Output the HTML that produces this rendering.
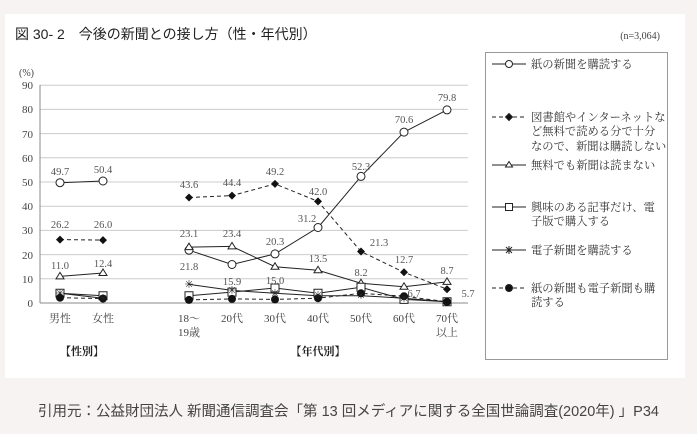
<!DOCTYPE html>
<html><head><meta charset="utf-8"><style>
body{margin:0;background:#f7f3f2;width:697px;height:434px;overflow:hidden;font-family:"Liberation Serif","Noto Serif CJK SC",serif}
.panel{position:absolute;left:5px;top:14px;width:680px;height:364px;background:#fff}
.cap{position:absolute;left:0;width:697px;top:400px;text-align:center;font:14.5px "Liberation Sans","Noto Sans CJK JP",sans-serif;color:#444}
</style></head><body>
<div class="panel"></div>
<svg style="position:absolute;left:0;top:0" width="697" height="434" font-family="Liberation Serif, Noto Serif CJK JP, serif">
<text x="15" y="39" font-size="14" font-family="Liberation Sans, Noto Sans CJK JP, sans-serif" fill="#222">図 30- 2　今後の新聞との接し方（性・年代別）</text>
<text x="660" y="39" font-size="10" fill="#444" text-anchor="end">(n=3,064)</text>
<g font-size="11" fill="#444" text-anchor="end">
<text x="34" y="76" font-size="10">(%)</text>
<text x="33" y="89">90</text><text x="33" y="113">80</text><text x="33" y="138">70</text><text x="33" y="162">60</text><text x="33" y="186">50</text><text x="33" y="210">40</text><text x="33" y="234">30</text><text x="33" y="259">20</text><text x="33" y="283">10</text><text x="33" y="307">0</text>
</g>
<g stroke="#ccc" stroke-width="1">
<line x1="40" y1="85.2" x2="468" y2="85.2"/><line x1="40" y1="109.4" x2="468" y2="109.4"/><line x1="40" y1="133.6" x2="468" y2="133.6"/><line x1="40" y1="157.8" x2="468" y2="157.8"/><line x1="40" y1="182" x2="468" y2="182"/><line x1="40" y1="206.2" x2="468" y2="206.2"/><line x1="40" y1="230.4" x2="468" y2="230.4"/><line x1="40" y1="254.6" x2="468" y2="254.6"/><line x1="40" y1="278.8" x2="468" y2="278.8"/>
</g>
<line x1="40" y1="85" x2="40" y2="303" stroke="#888"/>
<line x1="40" y1="303" x2="468" y2="303" stroke="#888"/>
<g fill="none" stroke="#222" stroke-width="1">
<polyline points="60,182.7 103,181"/><polyline points="189,250.2 232,264.5 275,253.9 318,227.5 361,176.4 404,132.1 447,109.9"/>
<polyline stroke-dasharray="4,3" points="60,239.6 103,240.1"/><polyline stroke-dasharray="4,3" points="189,197.5 232,195.6 275,183.9 318,201.4 361,251.5 404,272.3 447,289.2"/>
<polyline points="60,276.4 103,273"/><polyline points="189,247.1 232,246.4 275,266.7 318,270.3 361,283.2 404,286.8 447,281.9"/>
<polyline points="60,293.3 103,295.7"/><polyline points="189,295.7 232,292.1 275,288 318,293.3 361,287.3 404,299.4 447,301.8"/>
<polyline points="60,293.3 103,298.2"/><polyline points="189,284.4 232,290.4 275,293.3 318,295.7 361,295.7 404,298.2 447,301.8"/>
<polyline stroke-dasharray="4,3" points="60,297.7 103,298.6"/><polyline stroke-dasharray="4,3" points="189,299.9 232,298.9 275,299.4 318,298.2 361,293.3 404,296.2 447,301.8"/>
</g>
<g fill="#fff" stroke="#222">
<circle cx="60" cy="182.7" r="4"/><circle cx="103" cy="181" r="4"/><circle cx="189" cy="250.2" r="4"/><circle cx="232" cy="264.5" r="4"/><circle cx="275" cy="253.9" r="4"/><circle cx="318" cy="227.5" r="4"/><circle cx="361" cy="176.4" r="4"/><circle cx="404" cy="132.1" r="4"/><circle cx="447" cy="109.9" r="4"/>
<path d="M60,272.4l4,6.5h-8zM103,269l4,6.5h-8zM189,243.1l4,6.5h-8zM232,242.4l4,6.5h-8zM275,262.7l4,6.5h-8zM318,266.3l4,6.5h-8zM361,279.2l4,6.5h-8zM404,282.8l4,6.5h-8zM447,277.9l4,6.5h-8z"/>
<path d="M56,289.3h8v8h-8zM99,291.7h8v8h-8zM185,291.7h8v8h-8zM228,288.1h8v8h-8zM271,284h8v8h-8zM314,289.3h8v8h-8zM357,283.3h8v8h-8zM400,295.4h8v8h-8zM443,297.8h8v8h-8z"/>
</g>
<g fill="#111">
<path d="M60,235.6l4,4-4,4-4-4zM103,236.1l4,4-4,4-4-4zM189,193.5l4,4-4,4-4-4zM232,191.6l4,4-4,4-4-4zM275,179.9l4,4-4,4-4-4zM318,197.4l4,4-4,4-4-4zM361,247.5l4,4-4,4-4-4zM404,268.3l4,4-4,4-4-4zM447,285.2l4,4-4,4-4-4z"/>
<circle cx="60" cy="297.7" r="4"/><circle cx="103" cy="298.6" r="4"/><circle cx="189" cy="299.9" r="4"/><circle cx="232" cy="298.9" r="4"/><circle cx="275" cy="299.4" r="4"/><circle cx="318" cy="298.2" r="4"/><circle cx="361" cy="293.3" r="4"/><circle cx="404" cy="296.2" r="4"/><circle cx="447" cy="301.8" r="4"/>
</g>
<g font-size="11" text-anchor="middle" fill="#222">
<text x="60" y="297">✳</text><text x="103" y="302">✳</text><text x="189" y="288">✳</text><text x="232" y="294">✳</text><text x="275" y="297">✳</text><text x="318" y="299">✳</text><text x="361" y="299">✳</text><text x="404" y="302">✳</text>
</g>
<g font-size="10.5" fill="#555" text-anchor="middle">
<text x="60" y="175">49.7</text><text x="103" y="173">50.4</text><text x="189" y="188">43.6</text><text x="232" y="186">44.4</text><text x="275" y="175">49.2</text><text x="318" y="195">42.0</text><text x="361" y="170">52.3</text><text x="404" y="123">70.6</text><text x="447" y="101">79.8</text>
<text x="60" y="228">26.2</text><text x="103" y="228">26.0</text><text x="307" y="222">31.2</text><text x="189" y="237">23.1</text><text x="232" y="237">23.4</text><text x="275" y="245">20.3</text><text x="379" y="246">21.3</text><text x="318" y="262">13.5</text><text x="404" y="263">12.7</text><text x="189" y="270">21.8</text><text x="60" y="269">11.0</text><text x="103" y="267">12.4</text><text x="361" y="276">8.2</text><text x="447" y="274">8.7</text><text x="232" y="285">15.9</text><text x="275" y="284">15.0</text><text x="414" y="297">6.7</text><text x="468" y="297">5.7</text>
</g>
<g font-size="11" fill="#444" text-anchor="middle">
<text x="60" y="322">男性</text><text x="103" y="322">女性</text><text x="189" y="322">18～</text><text x="189" y="336">19歳</text><text x="232" y="322">20代</text><text x="275" y="322">30代</text><text x="318" y="322">40代</text><text x="361" y="322">50代</text><text x="404" y="322">60代</text><text x="447" y="322">70代</text><text x="447" y="336">以上</text>
<text x="82" y="355" font-weight="bold" fill="#222">【性別】</text><text x="318" y="355" font-weight="bold" fill="#222">【年代別】</text>
</g>
<rect x="485.5" y="52.5" width="182" height="307" fill="#fff" stroke="#999"/>
<g stroke="#222" fill="none">
<line x1="492" y1="64" x2="526" y2="64"/><circle cx="509" cy="64" r="3.5" fill="#fff"/>
<line x1="492" y1="117" x2="526" y2="117" stroke-dasharray="4,3"/><path d="M509,113.5l3.5,3.5-3.5,3.5-3.5-3.5z" fill="#111"/>
<line x1="492" y1="165" x2="526" y2="165"/><path d="M509,161.5l3.5,5.5h-7z" fill="#fff"/>
<line x1="492" y1="207" x2="526" y2="207"/><rect x="505.5" y="203.5" width="7" height="7" fill="#fff"/>
<line x1="492" y1="250" x2="526" y2="250"/><path d="M506,247l6,6M512,247l-6,6M509,246v8"/>
<line x1="492" y1="288" x2="526" y2="288" stroke-dasharray="4,3"/><circle cx="509" cy="288" r="3.5" fill="#111"/>
</g>
<g font-size="11.3" fill="#333">
<text x="531" y="68">紙の新聞を購読する</text>
<text x="531" y="121">図書館やインターネットな</text><text x="531" y="135">ど無料で読める分で十分</text><text x="531" y="150">なので、新聞は購読しない</text>
<text x="531" y="169">無料でも新聞は読まない</text>
<text x="531" y="211">興味のある記事だけ、電</text><text x="531" y="225">子版で購入する</text>
<text x="531" y="254">電子新聞を購読する</text>
<text x="531" y="292">紙の新聞も電子新聞も購</text><text x="531" y="306">読する</text>
</g>
</svg>
<div class="cap">引用元：公益財団法人 新聞通信調査会「第 13 回メディアに関する全国世論調査(2020年) 」P34</div>
</body></html>
